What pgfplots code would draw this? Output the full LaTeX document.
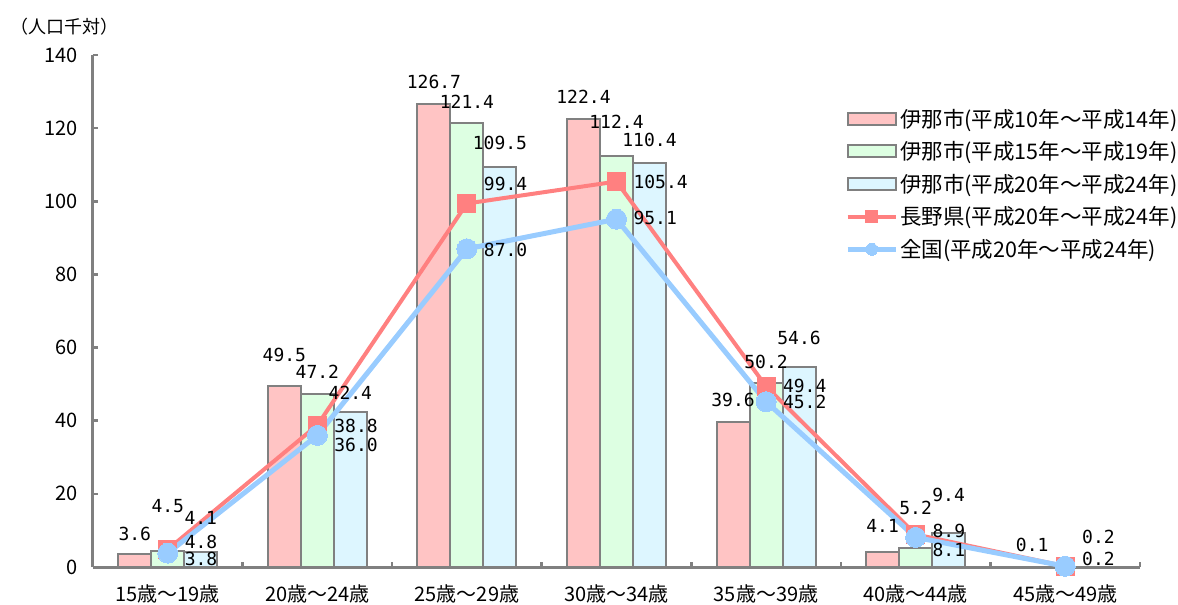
\documentclass[border=0pt]{standalone}
\usepackage{pgfplots}
\pgfplotsset{compat=1.18}
\usepackage{pgfplotstable}
\usepackage{fontspec}
\setmainfont{Noto Sans CJK JP}
\newfontfamily\numfont{DejaVu Sans Mono}

\definecolor{barA}{HTML}{FFC4C4}
\definecolor{barB}{HTML}{DDFFE2}
\definecolor{barC}{HTML}{DDF6FF}
\definecolor{edge}{HTML}{808080}
\definecolor{nagano}{HTML}{FF8080}
\definecolor{zenkoku}{HTML}{99CCFF}

% x y dy (label offset, bp)
\pgfplotstableread{
x y dy
0 3.6 20
1 49.5 31
2 126.7 22
3 122.4 23
4 39.6 22
5 4.1 26
6 0.1 22
}\inaA
\pgfplotstableread{
x y dy
0 4.5 45
1 47.2 23
2 121.4 21
3 112.4 34
4 50.2 22
5 5.2 40
}\inaB
\pgfplotstableread{
x y dy
0 4.1 34
1 42.4 19
2 109.5 24
3 110.4 23
4 54.6 29
5 9.4 38
}\inaC
\pgfplotstableread{
x y dy
0 4.8 8
1 38.8 -1
2 99.4 20
3 105.4 0
4 49.4 0
5 8.9 4
6 0.2 29
}\nagano
\pgfplotstableread{
x y dy
0 3.8 -6
1 36.0 -10
2 87.0 -1
3 95.1 1
4 45.2 0
5 8.1 -13
6 0.2 7
}\zenkoku

\newcommand{\lbl}{\numfont\fontsize{18bp}{20bp}\selectfont
  \pgfmathprintnumber[fixed,fixed zerofill,precision=1,assume math mode=true]{\pgfplotspointmeta}}

\pgfplotsset{
  boxlegend/.style={legend image code/.code={\draw[##1] (0bp,-6bp) rectangle (48bp,6bp);}},
  marklegend/.style={legend image code/.code={\draw[##1, mark size=6bp, mark repeat=2, mark phase=2]
      plot coordinates {(0bp,0bp) (24bp,0bp) (48bp,0bp)};}},
  barlbl/.style={point meta=y, nodes near coords=\lbl,
    visualization depends on={\thisrow{dy}\as\dy},
    nodes near coords style={anchor=center, inner sep=0pt, xshift=#1, yshift=\dy, text=black}},
  linelbl/.style={point meta=y, nodes near coords=\lbl,
    visualization depends on={\thisrow{dy}\as\dy},
    nodes near coords style={anchor=west, inner sep=0pt, xshift=17bp, yshift=\dy, text=black}},
}

\begin{document}
\begin{tikzpicture}
\begin{axis}[
  scale only axis,
  width=1047bp, height=512bp,
  xmin=-0.5, xmax=6.5,
  ymin=0, ymax=140,
  clip=false,
  axis x line*=bottom,
  axis y line*=left,
  axis line style={draw=edge, line width=3bp, -},
  ytick={0,20,...,140},
  xtick={0,...,6},
  xticklabels={15歳～19歳,20歳～24歳,25歳～29歳,30歳～34歳,35歳～39歳,40歳～44歳,45歳～49歳},
  minor xtick={-0.5,0.5,...,6.5},
  major x tick style={draw=none},
  tick align=inside,
  major tick length=5bp,
  minor tick length=5bp,
  tick style={draw=edge, line width=2.5bp},
  tick label style={font=\fontsize{20bp}{22bp}\selectfont},
  /pgf/number format/assume math mode=true,
  yticklabel style={inner sep=0pt, xshift=-15bp},
  xticklabel style={inner sep=0pt, yshift=-17bp},
  legend cell align=left,
  legend style={draw=none, fill=none, at={(rel axis cs:0.7154,0.903)}, anchor=north west,
    font=\fontsize{21.5bp}{23bp}\selectfont, row sep=9bp,
    nodes={inner sep=2bp}},
]
\coordinate (bl) at (rel axis cs:0,0);
\coordinate (tl) at (rel axis cs:0,1);

\addplot[ybar, bar width=33bp, bar shift=-33bp, fill=barA, draw=edge, line width=2bp,
  boxlegend, barlbl=-33bp]
  table[x=x,y=y] {\inaA};
\addlegendentry{伊那市(平成10年～平成14年)}

\addplot[ybar, bar width=33bp, bar shift=0bp, fill=barB, draw=edge, line width=2bp,
  boxlegend, barlbl=0bp]
  table[x=x,y=y] {\inaB};
\addlegendentry{伊那市(平成15年～平成19年)}

\addplot[ybar, bar width=33bp, bar shift=33bp, fill=barC, draw=edge, line width=2bp,
  boxlegend, barlbl=33bp]
  table[x=x,y=y] {\inaC};
\addlegendentry{伊那市(平成20年～平成24年)}

\addplot[sharp plot, color=nagano, line width=4bp, mark=square*, mark size=9bp,
  mark options={line width=0pt}, marklegend, linelbl]
  table[x=x,y=y] {\nagano};
\addlegendentry{長野県(平成20年～平成24年)}

\addplot[sharp plot, color=zenkoku, line width=5bp, mark=*, mark size=10bp,
  mark options={line width=0pt}, marklegend, linelbl]
  table[x=x,y=y] {\zenkoku};
\addlegendentry{全国(平成20年～平成24年)}
\end{axis}

\node[anchor=west, inner sep=0pt, font=\fontsize{18bp}{20bp}\selectfont]
  at ([shift={(-83bp,28bp)}]tl) {（人口千対）};

\pgfresetboundingbox
\path[use as bounding box] ([shift={(-93bp,-38bp)}]bl) rectangle ++(1178bp,605bp);
\end{tikzpicture}
\end{document}
